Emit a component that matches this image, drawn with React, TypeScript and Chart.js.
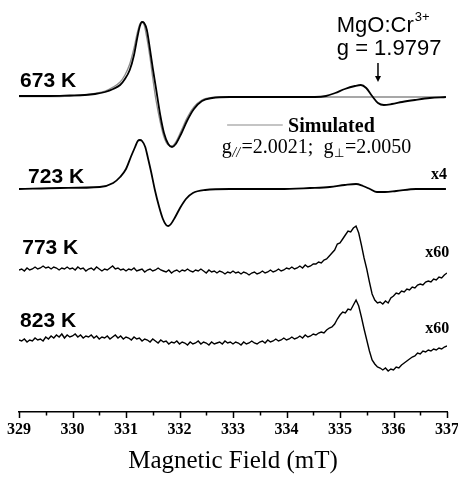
import { useEffect, useRef } from 'react';
import { Chart, registerables } from 'chart.js';

Chart.register(...registerables);

// ---- axis ----
const FIELD_MIN = 329;
const FIELD_MAX = 337;
const tickLabels = ['329', '330', '331', '332', '333', '334', '335', '336', '337'];

// ---- vertical offsets of each trace (a.u.) ----
const offset673 = 316;
const offset723 = 224;
const offset773 = 142;
const offset823 = 71;

// ---- 673 K (measured) ----
const field673 = [329.0, 329.58, 329.95, 330.23, 330.42, 330.61, 330.76, 330.89, 330.98, 331.07, 331.15, 331.21, 331.26, 331.30, 331.34, 331.39, 331.45, 331.50, 331.56, 331.64, 331.71, 331.79, 331.86, 331.93, 332.03, 332.14, 332.27, 332.42, 332.61, 332.94, 333.50, 334.07, 334.53, 334.74, 334.91, 335.09, 335.28, 335.39, 335.49, 335.60, 335.71, 335.82, 335.97, 336.16, 336.40, 336.68, 336.98];
const sig673 = [0, 0, 0.5, 1, 2, 4, 7, 11, 17, 26, 41, 58, 70, 74, 73, 66, 46, 28, 8, -19, -37, -48, -51, -48, -38, -25, -13, -5, -2, -1, -1, -1, -1, 0, 3, 7, 10, 11, 8, 0, -7, -9, -8, -6, -4, -2, -1];

// ---- 673 K simulated ----
const fieldSim = [329.0, 329.58, 329.95, 330.23, 330.42, 330.61, 330.76, 330.89, 330.98, 331.07, 331.15, 331.21, 331.26, 331.30, 331.34, 331.39, 331.45, 331.50, 331.56, 331.64, 331.71, 331.79, 331.86, 331.93, 332.03, 332.14, 332.27, 332.42, 332.61, 332.94, 336.98];
const sigSim = [-0.5, -0.5, 0, 1, 2.5, 5, 9, 14, 21, 32, 48, 63, 72, 74, 71, 58, 38, 18, -4, -26, -41, -49, -50, -46, -35, -22, -11, -4, -1.5, -1, -1];

// ---- 723 K (x4) ----
const field723 = [329.0, 329.77, 330.51, 330.76, 330.89, 331.0, 331.09, 331.17, 331.22, 331.26, 331.30, 331.36, 331.41, 331.47, 331.54, 331.62, 331.69, 331.75, 331.79, 331.84, 331.92, 332.01, 332.12, 332.25, 332.48, 332.94, 333.88, 334.44, 334.81, 335.09, 335.30, 335.43, 335.56, 335.69, 335.84, 336.05, 336.42, 336.98];
const sig723 = [-1, 0, 1, 5, 11, 19, 31, 41, 47, 48, 47, 41, 30, 16, -2, -19, -31, -37, -38, -36, -29, -20, -11, -5, -2, -1, -1, 0, 1, 3, 4, 2, -1, -4, -4, -3, -1, -1];

// ---- 773 K and 823 K (x60), sampled every 0.05 mT from 329 to 337 ----
const sweepStep = 0.05;
const sig773 = [
  0, 1, -1, 2, 0, 1, 3, 1, 2, 4, 2, 3, 1, 3, 2, 0, 2, 1, 3, 1, 2,
  0, 3, 1, 2, -1, 1, 2, 0, 3, 1, -1, 1, 0, 2, 4, 1, 2, 0, 1, -1,
  1, 0, 2, -1, 0, 1, -2, 0, 1, -1, 0, 2, 0, -1, -2, 0, -3, -1, 0, -2,
  0, -1, 1, -1, -2, 0, -1, 1, -1, -3, 0, -2, -1, -3, -1, -2, -4, -2, -3, -1,
  -3, -2, -4, -2, -3, -5, -3, -2, -4, -3, -1, -3, -2, 0, -2, -1, 1, -1, 0, 2,
  1, 3, 1, 2, 4, 2, 5, 3, 4, 6,
  6, 8, 7, 10, 11, 14,
  17, 20, 26, 27, 31, 35, 39, 38, 42, 44, 37, 25, 12, 1,
  -12, -24, -30, -33, -32, -34, -31, -33, -28, -26, -23, -24, -21, -22, -19, -20, -17, -18, -15, -14, -15, -12, -11, -12, -9, -10, -7, -8, -5, -3,
];
const sig823 = [
  1, 0, 2, -1, 1, 0, 3, 1, 2, 0, 4, 2, 5, 3, 6, 4, 7, 3, 6, 4, 5,
  7, 4, 6, 3, 5, 4, 6, 3, 5, 2, 4, 3, 5, 2, 4, 6, 3, 5, 2, 4,
  3, 1, 4, 2, 3, 0, 2, 1, -1, 2, 0, -2, 1, -1, 0, -3, -1, -2, 0, -3,
  -1, -2, -4, -1, -3, -2, 0, -3, -1, -2, -4, -1, -3, -2, -1, -3, 0, -2, -1, -3,
  -1, -2, -4, -1, -3, -2, 0, -2, -3, -1, 0, -2, 1, -1, 0, 2, 0, 1, 3, 1,
  2, 4, 2, 3, 5, 3, 6, 4, 5, 7, 6, 8, 9, 8, 11, 13,
  14, 17, 22, 26, 29, 28, 32, 31, 36, 41, 35, 24, 12, 1,
  -10, -19, -23, -26, -27, -29, -27, -30, -28, -29, -26, -27, -24, -22, -20, -18, -16, -15, -12, -13, -10, -11, -9, -10, -8, -9, -7, -8, -6, -5,
];
const sweepField = sig773.map((_, i) => +(FIELD_MIN + i * sweepStep).toFixed(2));

const toPoints = (xs: number[], ys: number[], off: number) => xs.map((x, i) => ({ x, y: off + ys[i] }));

const SERIF = '"Liberation Serif", "Times New Roman", serif';
const SANS = '"Liberation Sans", Arial, sans-serif';
const INK = '#000';

const annotations = {
  id: 'annotations',
  afterDraw(chart: any) {
    const { ctx } = chart;
    const xs = chart.scales.x;
    const ys = chart.scales.y;
    const px = (v: number) => xs.getPixelForValue(v);
    const py = (v: number) => ys.getPixelForValue(v);
    ctx.save();

    // tick marks (major / minor) hanging below the axis line
    ctx.strokeStyle = INK;
    ctx.lineWidth = 1.5;
    for (const t of xs.ticks) {
      const X = Math.round(px(t.value)) + 0.5;
      const len = Number.isInteger(t.value) ? 6 : 3.5;
      ctx.beginPath();
      ctx.moveTo(X, xs.top);
      ctx.lineTo(X, xs.top + len);
      ctx.stroke();
    }

    ctx.fillStyle = INK;
    ctx.textBaseline = 'alphabetic';

    // temperature labels
    ctx.font = `bold 21px ${SANS}`;
    ctx.textAlign = 'left';
    ctx.fillText('673 K', px(329.02), py(325));
    ctx.fillText('723 K', px(329.17), py(229));
    ctx.fillText('773 K', px(329.06), py(158));
    ctx.fillText('823 K', px(329.02), py(85));

    // gain factors
    ctx.font = `bold 16px ${SERIF}`;
    ctx.textAlign = 'right';
    ctx.fillText('x4', px(337.0), py(233));
    ctx.fillText('x60', px(337.04), py(155));
    ctx.fillText('x60', px(337.04), py(79));

    // MgO:Cr3+ label
    ctx.textAlign = 'left';
    ctx.font = `22px ${SANS}`;
    const mx = px(334.94);
    ctx.fillText('MgO:Cr', mx, py(380));
    const w1 = ctx.measureText('MgO:Cr').width;
    ctx.font = `13px ${SANS}`;
    ctx.fillText('3+', mx + w1 + 1, py(391));
    ctx.font = `22px ${SANS}`;
    ctx.fillText('g = 1.9797', mx, py(357));

    // arrow
    const ax = px(335.71);
    const ay1 = py(349);
    const ay2 = py(330);
    ctx.lineWidth = 1.5;
    ctx.beginPath();
    ctx.moveTo(ax, ay1);
    ctx.lineTo(ax, ay2 - 5);
    ctx.stroke();
    ctx.beginPath();
    ctx.moveTo(ax - 3, ay2 - 6);
    ctx.lineTo(ax + 3, ay2 - 6);
    ctx.lineTo(ax, ay2);
    ctx.closePath();
    ctx.fill();

    // legend: simulated line
    ctx.strokeStyle = '#8a8a8a';
    ctx.lineWidth = 1.2;
    ctx.beginPath();
    ctx.moveTo(px(332.89), py(287));
    ctx.lineTo(px(333.93), py(287));
    ctx.stroke();
    ctx.font = `bold 20px ${SERIF}`;
    ctx.fillText('Simulated', px(334.03), py(280));

    // g values line
    let gx = px(332.79);
    const gy = py(259);
    const seg = (text: string, font: string, dy = 0, after = 0) => {
      ctx.font = font;
      ctx.fillText(text, gx, gy + dy);
      gx += ctx.measureText(text).width + after;
    };
    const big = `20px ${SERIF}`;
    seg('g', big, 0, 0.5);
    seg('//', `italic 14px ${SERIF}`, 4, 1.5);
    seg('=2.0021;  g', big, 0, 0.5);
    seg('\u22A5', `12px ${SERIF}`, 4, 1);
    seg('=2.0050', big);

    ctx.restore();
  },
};

export default function App() {
  const ref = useRef<HTMLCanvasElement | null>(null);
  useEffect(() => {
    if (!ref.current) return;
    const chart = new Chart(ref.current, {
      type: 'line',
      data: {
        datasets: [
          { label: '673 K', data: toPoints(field673, sig673, offset673), borderColor: INK, borderWidth: 1.8, cubicInterpolationMode: 'monotone' },
          { label: 'Simulated', data: toPoints(fieldSim, sigSim, offset673), borderColor: '#8a8a8a', borderWidth: 1.3, cubicInterpolationMode: 'monotone' },
          { label: '723 K', data: toPoints(field723, sig723, offset723), borderColor: INK, borderWidth: 1.8, cubicInterpolationMode: 'monotone' },
          { label: '773 K', data: toPoints(sweepField, sig773, offset773), borderColor: INK, borderWidth: 1.4, tension: 0 },
          { label: '823 K', data: toPoints(sweepField, sig823, offset823), borderColor: INK, borderWidth: 1.4, tension: 0 },
        ],
      } as any,
      options: {
        animation: false,
        responsive: false,
        devicePixelRatio: 1,
        layout: { padding: { left: 19, right: 11, top: 0, bottom: 0 } },
        elements: { point: { radius: 0 } },
        plugins: { legend: { display: false }, tooltip: { enabled: false } },
        scales: {
          x: {
            type: 'linear',
            min: FIELD_MIN,
            max: FIELD_MAX,
            afterFit: (s: any) => {
              s.height = 68;
              s.paddingLeft = 0;
              s.paddingRight = 0;
            },
            grid: { display: false, drawTicks: false },
            border: { display: true, color: INK, width: 1.5 },
            ticks: {
              stepSize: 0.5,
              autoSkip: false,
              maxRotation: 0,
              padding: 8,
              color: INK,
              font: { family: SERIF, size: 16, weight: 'bold' },
              callback: (v: any) => (Number.isInteger(v) ? tickLabels[v - FIELD_MIN] : ''),
            },
            title: {
              display: true,
              text: 'Magnetic Field (mT)',
              color: INK,
              font: { family: SERIF, size: 25 },
              padding: { top: 0, bottom: 4 },
            },
          },
          y: { type: 'linear', display: false, min: 0, max: 412 },
        },
      } as any,
      plugins: [annotations],
    });
    return () => chart.destroy();
  }, []);
  return (
    <div style={{ position: 'fixed', left: 0, top: 0, width: 458, height: 480, background: '#fff' }}>
      <canvas ref={ref} width={458} height={480} />
    </div>
  );
}
